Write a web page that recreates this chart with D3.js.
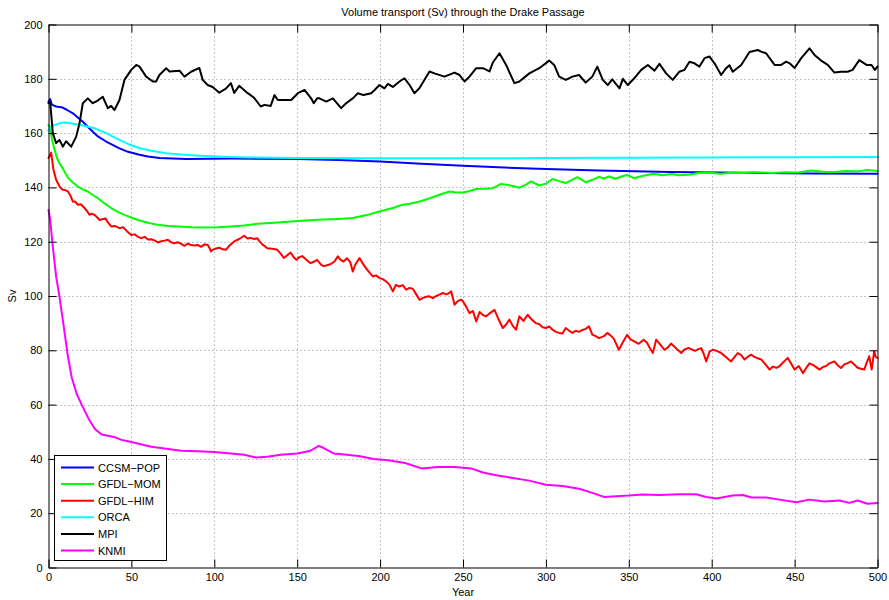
<!DOCTYPE html>
<html>
<head>
<meta charset="utf-8">
<script src="https://cdn.jsdelivr.net/npm/d3@7"></script>
<style>
  html, body { margin: 0; padding: 0; background: #fff; }
  svg { display: block; font-family: "Liberation Sans", Arial, Helvetica, sans-serif; }
</style>
</head>
<body>
<svg id="chart" width="889" height="600"></svg>
<script>
// Volume transport through the Drake Passage, [year, Sv] per model run
const ccsmPop = [[0,171.5],[1,172.5],[2,170.5],[4.6,169.8],[8.6,169.4],[11,168.6],[14.7,167.3],[20.7,164.2],[26.7,160.5],[30,158.7],[34.8,156.9],[42.8,154.4],[48,153.1],[54.9,152],[60,151.4],[67,150.8],[75,150.6],[83,150.5],[111,150.6],[150,150.5],[175,150.1],[200,149.5],[225,148.7],[250,148],[275,147.3],[300,146.8],[332,146.2],[375,145.7],[420,145.4],[460,145.1],[500,145]];

const gfdlMom = [[0,163],[1,162],[2,158],[3.6,154],[5,151],[6.6,148.9],[8.6,147],[11.7,143.6],[14.7,141.8],[17.7,140.3],[20.7,139.3],[23.7,138.5],[26.7,137.2],[29.8,136],[33.8,134.1],[37.8,132.4],[41.8,131],[45.8,129.9],[49.9,128.9],[53.9,128],[60,127],[66,126.2],[72,125.8],[78,125.6],[86,125.3],[94,125.2],[102,125.3],[110,125.6],[118,126],[126,126.6],[136,127],[146,127.4],[155,127.8],[166,128.2],[175,128.4],[183.5,128.7],[192,129.8],[199.6,131.1],[207,132.3],[213.7,133.6],[218,134],[223.8,134.8],[230,136],[235.8,137.3],[241.9,138.5],[245,138.2],[249.9,138.1],[254,138.7],[258,139.4],[263,139.5],[268,139.7],[273,141.3],[278,140.8],[284,139.9],[288,141],[291,142.2],[296,140.7],[300,141.4],[304,143.1],[308,142.3],[312,141.6],[316,142.9],[319,143.8],[324,141.9],[328,142.8],[332,143.9],[335,143.3],[338,144],[342,143.2],[346,144.1],[349,144.6],[353,143.4],[358,144.2],[365,145],[370,144.5],[376,144.9],[380,144.5],[386,144.7],[392,145.3],[398,145.5],[405,145],[412,145.4],[420,145.3],[425,145.6],[430,145.5],[437,145.3],[444,145.6],[452,145.5],[460,146.2],[467,145.8],[474,145.7],[481,146],[488,145.9],[494,146.4],[500,146]];

const gfdlHim = [[0,150.8],[1.6,152.8],[3,146.5],[4.5,143],[5.6,141.6],[7,140],[8.6,139.1],[10,139],[11.7,138.5],[13.2,137],[14.7,134.8],[16,134.8],[17.7,133.6],[19.5,133.8],[21.7,132.4],[23,131.5],[24.7,129.9],[26,130.3],[27.7,129.9],[29,129.2],[30.8,128],[32.5,128.3],[34.3,128.6],[36,127],[37.8,125.6],[40,125.8],[42.8,125],[45,125.3],[47.5,123.8],[49.9,122.5],[52,122.7],[54,121.8],[55.9,121.3],[58,121.8],[60,120.8],[62,120.9],[64,120.5],[66,119.7],[68,120.2],[70,120.4],[72,120.7],[74,119.8],[75.8,119.4],[78,119.8],[80,119.2],[82,118.5],[84,119.3],[86,118.8],[88,118.6],[90,118.8],[92,118.1],[94,119],[96,118.9],[97,117.8],[98,116.4],[99,117],[101,117.5],[103,117.8],[105,117.2],[107,117],[109,118.5],[112,120.1],[115,121],[118,122.2],[120,121.2],[122,121.4],[124,121],[126,121.3],[127,120.3],[129,119],[132,117.6],[135,117.4],[138,117],[140,115.6],[142,114],[144,115],[146,116],[148,114.2],[149.5,113.3],[151,114.2],[153,114.7],[155,113.6],[158,112.1],[160,112.6],[162,113.3],[164.5,111.5],[166,111],[168,111.3],[170,111.7],[172.5,112.7],[174.5,114.6],[176,113.4],[178,112.7],[180,113.9],[182,112.5],[183.5,109],[185,111.5],[187.6,114],[189.5,112],[191.6,110.2],[193.6,108.6],[195.6,107.2],[197.5,107.6],[199.6,106.6],[201.6,106.2],[203.6,105.4],[205.6,104.2],[207.7,101.7],[209.5,104.1],[211.5,103.5],[213.7,104],[215.7,102.3],[217.7,103],[219.7,102.7],[221.8,100.6],[223.8,98.6],[225.8,99.3],[227.8,99.7],[229.8,99.9],[231.8,99.2],[233.8,100],[235.8,100.5],[237.8,101.1],[239.8,100.6],[241.5,101],[242.9,101.7],[244.9,96.8],[247,98.2],[249,98.6],[250,98],[252,96],[253.9,93.7],[256,94.5],[258,90.6],[260,94.1],[262,93],[264,92.5],[266.5,93.8],[269,94.9],[271,92],[274,88.2],[276,89.5],[278,91.3],[280,89],[282,87.6],[284,92.5],[286.5,90.8],[289,93.1],[291.5,91.3],[294,90],[296,89.6],[298,88.5],[300,88.2],[302,88.8],[304,87.6],[306,86.8],[308,86.4],[310,86.2],[312,88.2],[314,87.2],[316,86.4],[318,87.2],[320,86.8],[322,87.5],[324,87.9],[326,88.8],[328,85.8],[330,85.2],[332,84.5],[335,85.2],[337,86.4],[339,85.5],[341,84.2],[344,80.2],[346,82.5],[349,85.7],[351,84],[353,83.4],[356,82.4],[359,83.9],[361,82.8],[362.5,81],[364.5,79],[366.5,83.9],[369,82.1],[371.5,80.2],[373.5,81],[375.5,82.5],[378,81],[381.6,79],[383.6,80.3],[386,80.9],[388,80.3],[390,79.8],[392,80.4],[393.7,80.8],[395,79],[396.7,75.9],[398.7,79.5],[400.7,80.2],[403,79.8],[405.7,79],[408,77.8],[411.7,75.9],[413.7,77.5],[415.7,79],[417.8,78.2],[419.8,76.6],[421.8,77.6],[423.8,78.4],[426,77.5],[428,77],[430,76.6],[432.8,74.5],[434.9,72.9],[437,74],[439,73.5],[441,74.2],[443,75.5],[445.9,77.2],[448,75],[450,72.9],[452.5,74.2],[455,71.6],[457,73.5],[459,75.2],[461,74.6],[463,73.8],[465,72.9],[467,73.8],[469,74.2],[471,75.2],[474,75.9],[476,74.5],[478,73.5],[480,74.8],[482,75.3],[484,75.9],[486,74.8],[488,73.6],[490,73.2],[492,72.9],[493.5,75.5],[495,77.8],[496.5,72.9],[498,79.6],[499,77.5],[500,77.2]];

const orca = [[0,161],[2,162.6],[5,163.2],[8,163.8],[10.6,163.9],[14,163.5],[18.7,163.1],[22,162.6],[26.7,162],[30,161.2],[34.8,160],[38,159],[42.8,157.5],[48,156],[55,154.4],[62,153.5],[71,152.6],[80,152.1],[91,151.7],[105,151.3],[121,151],[150,150.8],[200,150.7],[250,150.7],[300,150.8],[350,150.9],[400,151],[450,151.1],[500,151.2]];

const mpi = [[0,171],[1,171.5],[2.6,160],[4.6,156.3],[6.6,157.5],[8.6,155],[10.6,157],[13.7,155],[16.7,158.7],[18.7,163.6],[20.7,171],[23.7,172.8],[26.7,171],[29.7,172],[32.7,173.4],[35.8,169.2],[37.8,170],[39.8,168.5],[42.8,172.2],[45.8,179.6],[49.9,183.3],[52.9,185.1],[54.9,184.5],[58.9,180.8],[62.9,179],[64.9,179],[66.9,181.4],[71,183.9],[73,182.7],[79,183],[82,180.8],[86,182.6],[91,184],[93,179.6],[96,177.7],[99,177],[103,174.9],[107,176.4],[110,178.4],[112,174.8],[115,177.4],[120,174.8],[124,173],[128,169.8],[130.3,170.4],[134,170],[136.3,174],[138.3,172.2],[142,172.2],[146.4,172.2],[150.4,174.7],[154.4,175.9],[158.4,172.8],[160,171],[162,172.8],[163.4,172.8],[167.5,171.6],[171.5,172.8],[176.5,169.2],[179.5,171],[183.5,172.8],[186.6,174.7],[190,174],[194.6,174.7],[196.7,175.9],[199.6,177.7],[202.6,176.5],[204.7,178.1],[207.7,177],[211.7,179],[214.7,180.2],[217.7,177.8],[220.7,174.7],[223.7,176.5],[229.8,182.7],[232.8,182],[238.8,180.8],[244.9,182.3],[247.9,181.4],[250.9,179],[253.9,180.8],[258,183.9],[262,183.9],[266,182.7],[268,186],[272,189.4],[276,185.1],[281,178.4],[284,179],[290,182],[296,183.9],[302,186.7],[305,185.1],[308,180.8],[312,179.6],[316,180.8],[320,181.4],[324,178.6],[328,180.8],[331,184.5],[334.3,179.6],[337.3,177.7],[340,179.8],[344.4,176.5],[346.4,180],[349.4,177.7],[353,180],[357.5,183.3],[361.5,185.1],[365.5,183],[368.5,185.5],[372.5,182],[376.5,179.6],[380.5,182.6],[383.6,183.3],[386.6,186.3],[389.6,185.7],[392.6,184.5],[395.7,187.6],[398.7,188.2],[401.7,185.7],[405.7,181.4],[408.7,183.9],[410.7,185],[412.7,182.6],[417.8,185.1],[422.8,189.9],[427.8,190.6],[429.8,190],[432.8,189.4],[437.9,185.1],[441.9,185.1],[444.9,186.3],[447,185.7],[450,184],[454,187.6],[459,191.2],[462,188.8],[466,186.7],[470,185.1],[474,182.3],[478,182.6],[482,182.6],[485,183.3],[489,186.9],[493.4,185.1],[496.4,185.1],[498.4,183.3],[500,184.5]];

const knmi = [[0,131.7],[1,128],[2.6,118.2],[4.6,107.2],[6.6,99.8],[8.6,91.3],[11.7,77.8],[14,70],[17,64],[20,60],[24,55],[28,51],[32,49],[36,48.5],[40,48],[44,47],[48,46.5],[55,45.5],[62,44.5],[70,43.8],[80,43],[90,42.8],[100,42.5],[110,42],[118,41.5],[125,40.5],[132,40.8],[140,41.5],[150,42],[158,43],[163,44.8],[166,44],[172,42],[180,41.5],[188,41],[196,40],[205,39.5],[215,38.5],[225,36.5],[235,37],[245,37],[255,36.5],[262,35],[270,34],[280,33],[290,32],[300,30.5],[310,30],[320,29],[328,27.5],[335,26],[350,26.5],[358,26.9],[368.5,26.7],[380.6,27],[390.6,27],[396.7,26],[402.7,25.4],[412.7,26.5],[418.8,26.7],[424,25.8],[432.8,25.8],[440.9,25],[451,24],[459,25],[468,24.3],[477,24.7],[483,23.8],[488,24.7],[494,23.5],[500,23.8]];

const seriesNames = ["CCSM\u2212POP", "GFDL\u2212MOM", "GFDL\u2212HIM", "ORCA", "MPI", "KNMI"];
const seriesData = [ccsmPop, gfdlMom, gfdlHim, orca, mpi, knmi];
const seriesColors = ["#0000ff", "#00ff00", "#ff0000", "#00ffff", "#000000", "#ff00ff"];

const xTicks = [0, 50, 100, 150, 200, 250, 300, 350, 400, 450, 500];
const yTicks = [0, 20, 40, 60, 80, 100, 120, 140, 160, 180, 200];

const titleText = "Volume transport (Sv) through the Drake Passage";
const xLabelText = "Year";
const yLabelText = "Sv";

// Layout
const plot = { left: 48.5, right: 877.5, top: 24.5, bottom: 567.5 };
const tickLen = 8;

const svg = d3.select("#chart");

const x = d3.scaleLinear().domain([0, 500]).range([plot.left, plot.right]);
const y = d3.scaleLinear().domain([0, 200]).range([plot.bottom, plot.top]);

// Dotted grid
const grid = svg.append("g").attr("stroke", "#8c8c8c").attr("stroke-width", 1)
  .attr("stroke-dasharray", "1,3").attr("fill", "none");
grid.selectAll("line.gx").data(xTicks.filter(t => t > 0 && t < 500)).join("line")
  .attr("x1", d => Math.round(x(d)) + 0.5).attr("x2", d => Math.round(x(d)) + 0.5)
  .attr("y1", plot.top).attr("y2", plot.bottom);
grid.selectAll("line.gy").data(yTicks.filter(t => t > 0 && t < 200)).join("line")
  .attr("y1", d => Math.round(y(d)) + 0.5).attr("y2", d => Math.round(y(d)) + 0.5)
  .attr("x1", plot.left).attr("x2", plot.right);

// Series
const line = d3.line().x(d => x(d[0])).y(d => y(d[1]));
const lines = svg.append("g").attr("fill", "none").attr("stroke-width", 2)
  .attr("stroke-linejoin", "round").attr("stroke-linecap", "round");
seriesData.forEach((s, i) => {
  lines.append("path").datum(s).attr("d", line).attr("stroke", seriesColors[i]);
});

// Axes (ticks inward, box around the plot)
const fontSize = 11;
const axisBottom = d3.axisBottom(x).tickValues(xTicks).tickSizeInner(-tickLen).tickSizeOuter(0).tickPadding(6);
const axisLeft = d3.axisLeft(y).tickValues(yTicks).tickSizeInner(-tickLen).tickSizeOuter(0).tickPadding(6);
const axisTop = d3.axisTop(x).tickValues(xTicks).tickSizeInner(-tickLen).tickSizeOuter(0).tickFormat("");
const axisRight = d3.axisRight(y).tickValues(yTicks).tickSizeInner(-tickLen).tickSizeOuter(0).tickFormat("");

function styleAxis(g) {
  g.selectAll("path.domain").attr("stroke", "#000").attr("stroke-width", 1);
  g.selectAll(".tick line").attr("stroke", "#000").attr("stroke-width", 1);
  g.selectAll(".tick text").attr("fill", "#000").attr("font-size", fontSize)
    .attr("font-family", "Liberation Sans, Arial, sans-serif");
}

svg.append("g").attr("transform", `translate(0,${plot.bottom})`).call(axisBottom).call(styleAxis);
svg.append("g").attr("transform", `translate(${plot.left},0)`).call(axisLeft).call(styleAxis);
svg.append("g").attr("transform", `translate(0,${plot.top})`).call(axisTop).call(styleAxis);
svg.append("g").attr("transform", `translate(${plot.right},0)`).call(axisRight).call(styleAxis);

// Titles
svg.append("text").attr("x", (plot.left + plot.right) / 2).attr("y", 16)
  .attr("text-anchor", "middle").attr("font-size", 11).text(titleText);
svg.append("text").attr("x", (plot.left + plot.right) / 2).attr("y", 596)
  .attr("text-anchor", "middle").attr("font-size", 11).text(xLabelText);
svg.append("text").attr("transform", `translate(16,${(plot.top + plot.bottom) / 2}) rotate(-90)`)
  .attr("text-anchor", "middle").attr("font-size", 11).text(yLabelText);

// Legend
const legend = svg.append("g");
const lg = { x: 54.5, y: 455.5, w: 112, h: 105, row: 16.6, first: 467.5 };
legend.append("rect").attr("x", lg.x).attr("y", lg.y).attr("width", lg.w).attr("height", lg.h)
  .attr("fill", "#fff").attr("stroke", "#000").attr("stroke-width", 1);
seriesNames.forEach((name, i) => {
  const cy = lg.first + i * lg.row;
  legend.append("line").attr("x1", 61).attr("x2", 94).attr("y1", cy).attr("y2", cy)
    .attr("stroke", seriesColors[i]).attr("stroke-width", 2);
  legend.append("text").attr("x", 98).attr("y", cy + 4).attr("font-size", 11).text(name);
});
</script>
</body>
</html>
